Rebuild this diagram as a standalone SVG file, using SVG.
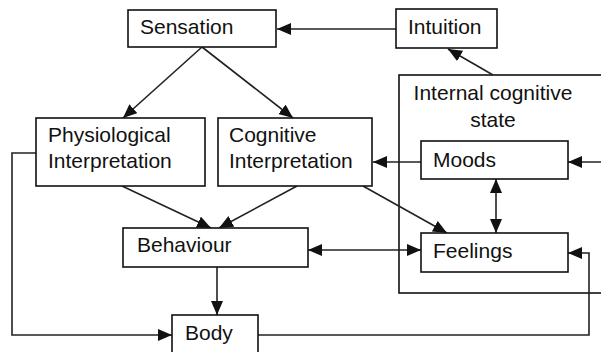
<svg xmlns="http://www.w3.org/2000/svg" width="601" height="352" viewBox="0 0 601 352">
<defs>
<style>
.box{fill:#fff;stroke:#111;stroke-width:1.6}
.t{font-family:"Liberation Sans",Arial,sans-serif;font-size:21px;fill:#111}
.c{fill:none;stroke:#222;stroke-width:1.6}
</style>
<marker id="ah" markerUnits="userSpaceOnUse" markerWidth="16" markerHeight="14" refX="14" refY="6" orient="auto-start-reverse" viewBox="0 0 16 14">
<path d="M0,0 L14,6 L0,12 z" fill="#111"/>
</marker>
</defs>
<rect width="601" height="352" fill="#fff"/>
<g id="internal-state">
<rect class="box" x="399" y="75" width="220" height="218"/>
<text class="t" x="493" y="100" text-anchor="middle">Internal cognitive</text>
<text class="t" x="493" y="127" text-anchor="middle">state</text>
</g>
<g id="connectors">
<line class="c" x1="396" y1="29" x2="277" y2="29" marker-end="url(#ah)"/>
<line class="c" x1="493" y1="75" x2="448" y2="49" marker-end="url(#ah)"/>
<line class="c" x1="202" y1="47" x2="123" y2="118" marker-end="url(#ah)"/>
<line class="c" x1="202" y1="47" x2="293" y2="118" marker-end="url(#ah)"/>
<line class="c" x1="122" y1="186" x2="211" y2="228" marker-end="url(#ah)"/>
<line class="c" x1="297" y1="186" x2="219" y2="228" marker-end="url(#ah)"/>
<line class="c" x1="363" y1="186" x2="447" y2="233" marker-end="url(#ah)"/>
<line class="c" x1="421" y1="162" x2="373" y2="162" marker-end="url(#ah)"/>
<line class="c" x1="601" y1="162" x2="568" y2="162" marker-end="url(#ah)"/>
<line class="c" x1="496" y1="179" x2="496" y2="233" marker-start="url(#ah)" marker-end="url(#ah)"/>
<line class="c" x1="308" y1="250" x2="421" y2="250" marker-start="url(#ah)" marker-end="url(#ah)"/>
<line class="c" x1="217" y1="267" x2="217" y2="315" marker-end="url(#ah)"/>
<polyline class="c" points="36,153 12,153 12,335 172,335" marker-end="url(#ah)"/>
<polyline class="c" points="258,335 589,335 589,253 568,253" marker-end="url(#ah)"/>
</g>
<g id="sensation">
<rect class="box" x="128" y="10" width="148" height="37"/>
<text class="t" x="140" y="34">Sensation</text>
</g>
<g id="intuition">
<rect class="box" x="396" y="9" width="101" height="39"/>
<text class="t" x="408" y="34">Intuition</text>
</g>
<g id="physiological">
<rect class="box" x="36" y="118" width="169" height="68"/>
<text class="t" x="48" y="142">Physiological</text>
<text class="t" x="48" y="168">Interpretation</text>
</g>
<g id="cognitive">
<rect class="box" x="218" y="118" width="154" height="68"/>
<text class="t" x="229" y="142">Cognitive</text>
<text class="t" x="229" y="168">Interpretation</text>
</g>
<g id="moods">
<rect class="box" x="421" y="141" width="147" height="38"/>
<text class="t" x="433" y="167">Moods</text>
</g>
<g id="feelings">
<rect class="box" x="421" y="233" width="147" height="39"/>
<text class="t" x="433" y="258">Feelings</text>
</g>
<g id="behaviour">
<rect class="box" x="123" y="228" width="185" height="39"/>
<text class="t" x="137" y="252">Behaviour</text>
</g>
<g id="body">
<rect class="box" x="172" y="315" width="86" height="45"/>
<text class="t" x="185" y="340">Body</text>
</g>
</svg>
